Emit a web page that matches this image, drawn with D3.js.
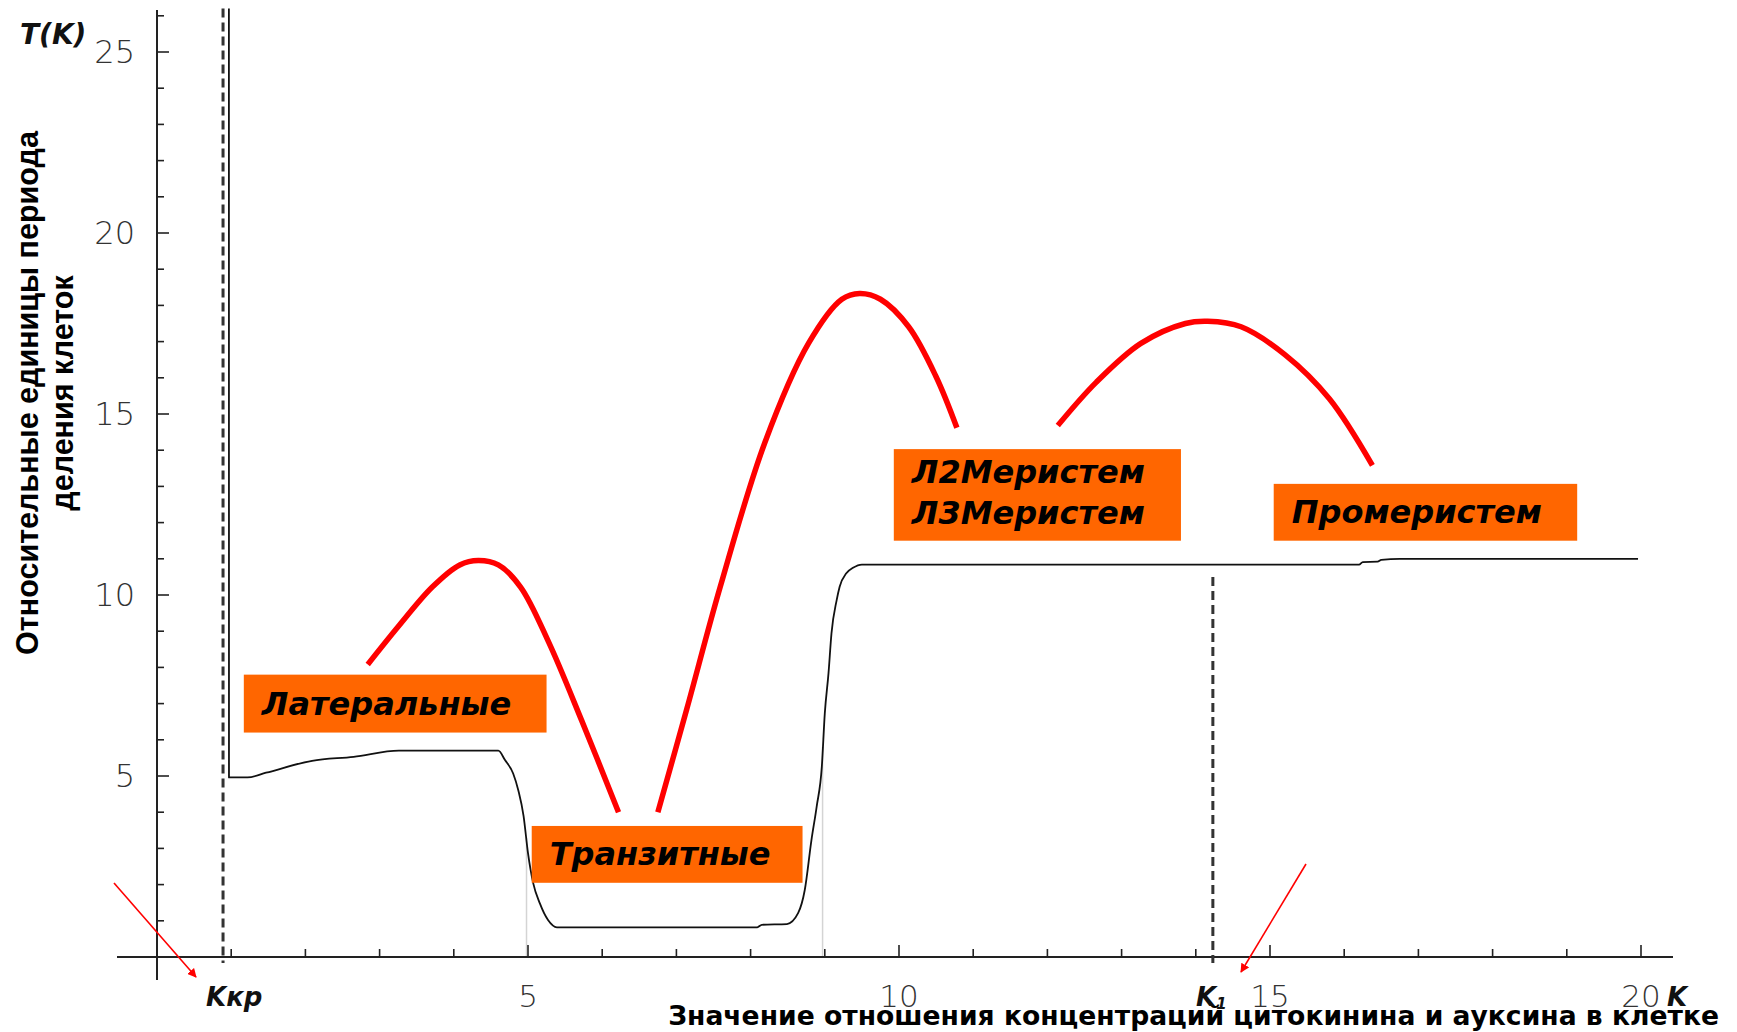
<!DOCTYPE html>
<html>
<head>
<meta charset="utf-8">
<script src="https://cdn.jsdelivr.net/npm/d3@7"></script>
<style>
  html, body { margin: 0; padding: 0; background: #fff; }
  svg { display: block; }
</style>
</head>
<body>
<svg id="chart" width="1737" height="1032"></svg>
<script>
// ---------- DATA ----------
// Main curve T(K)
const curveK = [0.969, 0.97, 1.22, 1.47, 2.09, 2.65, 3.26, 4.60, 4.69, 4.80, 4.87, 4.94, 5.00, 5.07, 5.16, 5.27, 5.39,
                8.09, 8.15, 8.49, 8.64, 8.73, 8.82, 8.89, 8.96, 9.00, 9.05, 9.09, 9.16, 9.20, 9.29, 9.38, 9.50,
                16.2, 16.25, 16.45, 16.5, 16.75, 19.96];
const curveT = [26.2, 4.96, 4.96, 5.09, 5.42, 5.53, 5.70, 5.70, 5.44, 5.07, 4.60, 3.90, 2.87, 2.04, 1.48, 1.02, 0.82,
                0.82, 0.89, 0.91, 1.21, 1.85, 3.23, 4.15, 5.26, 6.73, 7.84, 8.94, 9.86, 10.23, 10.6, 10.75, 10.84,
                10.84, 10.91, 10.92, 10.97, 11.0, 11.0];
// faint vertical jump lines  [K, Ttop]
const jumpK = [4.98, 8.97];
const jumpT = [3.3, 5.8];
// critical values
const critK = [0.89, 14.23];
const critTop = [26.2, 10.5];
const critLabels = ["Kкр", "K"];
// red annotation arcs
const arc1K = [2.84, 3.26, 3.71, 4.08, 4.33, 4.60, 4.90, 5.28, 5.72, 6.22];
const arc1T = [8.08, 9.15, 10.22, 10.83, 10.95, 10.83, 10.22, 8.69, 6.55, 4.0];
const arc2K = [6.75, 7.14, 7.59, 8.19, 8.78, 9.23, 9.47, 9.75, 10.13, 10.5, 10.78];
const arc2T = [4.0, 6.85, 10.22, 14.2, 16.95, 18.17, 18.33, 18.17, 17.41, 16.03, 14.62];
const arc3K = [12.14, 12.66, 13.26, 13.86, 14.16, 14.61, 15.2, 15.8, 16.38];
const arc3T = [14.68, 15.88, 16.95, 17.50, 17.56, 17.41, 16.64, 15.42, 13.58];
// labelled boxes
const boxNames = [["Латеральные"], ["Транзитные"], ["Л2Меристем", "Л3Меристем"], ["Промеристем"]];
const boxK0 = [1.17, 5.05, 9.93, 15.05];
const boxK1 = [5.25, 8.70, 13.80, 19.14];
const boxT0 = [7.8, 3.62, 14.03, 13.07];
const boxT1 = [6.2, 2.05, 11.5, 11.5];
// axis ticks
const xTicksMajor = [5, 10, 15, 20];
const yTicksMajor = [5, 10, 15, 20, 25];
const xTicksMinor = d3.range(1, 21);
const yTicksMinor = d3.range(1, 27);
// texts
const yTitle = ["Относительные единицы периода", "деления клеток"];
const xTitle = "Значение отношения концентраций цитокинина и ауксина в клетке";

// ---------- SCALES ----------
const x = d3.scaleLinear().domain([0, 20]).range([157, 1641]);
const y = d3.scaleLinear().domain([0, 25]).range([957, 52]);

const svg = d3.select("#chart");

// faint vertical lines
svg.append("g").selectAll("line").data(jumpK).join("line")
  .attr("x1", d => x(d)).attr("x2", d => x(d))
  .attr("y1", (d, i) => y(jumpT[i])).attr("y2", y(0))
  .attr("stroke", "#d4d4d4").attr("stroke-width", 1.5);

// Axes
const axisCol = "#222";
svg.append("line").attr("x1", 117).attr("x2", 1673).attr("y1", y(0)).attr("y2", y(0))
  .attr("stroke", axisCol).attr("stroke-width", 2);
svg.append("line").attr("x1", x(0)).attr("x2", x(0)).attr("y1", 10).attr("y2", 980)
  .attr("stroke", axisCol).attr("stroke-width", 2);

svg.append("g").selectAll("line").data(xTicksMinor).join("line")
  .attr("x1", d => x(d)).attr("x2", d => x(d))
  .attr("y1", y(0)).attr("y2", d => y(0) - (xTicksMajor.includes(d) ? 12 : 8))
  .attr("stroke", axisCol).attr("stroke-width", 1.6);
svg.append("g").selectAll("line").data(yTicksMinor).join("line")
  .attr("y1", d => y(d)).attr("y2", d => y(d))
  .attr("x1", x(0)).attr("x2", d => x(0) + (yTicksMajor.includes(d) ? 12 : 7))
  .attr("stroke", axisCol).attr("stroke-width", 1.6);

const tickFont = "'DejaVu Sans ExtraLight', 'DejaVu Sans', sans-serif";
svg.append("g").selectAll("text").data(xTicksMajor).join("text")
  .attr("x", d => x(d)).attr("y", y(0) + 50)
  .attr("text-anchor", "middle")
  .attr("font-family", tickFont).attr("font-weight", 200).attr("font-size", 31)
  .attr("fill", "#333").text(d => d);
svg.append("g").selectAll("text").data(yTicksMajor).join("text")
  .attr("x", x(0) - 22).attr("y", d => y(d) + 11)
  .attr("text-anchor", "end")
  .attr("font-family", tickFont).attr("font-weight", 200).attr("font-size", 32)
  .attr("fill", "#333").text(d => d);

// critical dashed lines
svg.append("g").selectAll("line").data(critK).join("line")
  .attr("x1", d => x(d)).attr("x2", d => x(d))
  .attr("y1", (d, i) => y(critTop[i])).attr("y2", y(0) + 6)
  .attr("stroke", "#333").attr("stroke-width", 3).attr("stroke-dasharray", "9,5");

// main curve
const line = d3.line().x(d => x(d[0])).y(d => y(d[1])).curve(d3.curveMonotoneX);
svg.append("path").datum(curveK.map((k, i) => [k, curveT[i]]))
  .attr("d", line).attr("fill", "none").attr("stroke", "#111").attr("stroke-width", 1.8)
  .attr("stroke-linejoin", "round");

// red arcs
const arcLine = d3.line().x(d => x(d[0])).y(d => y(d[1])).curve(d3.curveCatmullRom.alpha(0.5));
[[arc1K, arc1T], [arc2K, arc2T], [arc3K, arc3T]].forEach(([ks, ts]) => {
  svg.append("path").datum(ks.map((k, i) => [k, ts[i]]))
    .attr("d", arcLine).attr("fill", "none").attr("stroke", "#ff0000").attr("stroke-width", 5.5);
});

// boxes
const labelFont = "'DejaVu Sans', Verdana, sans-serif";
boxNames.forEach((lines, i) => {
  const g = svg.append("g");
  g.append("rect")
    .attr("x", x(boxK0[i])).attr("y", y(boxT0[i]))
    .attr("width", x(boxK1[i]) - x(boxK0[i])).attr("height", y(boxT1[i]) - y(boxT0[i]))
    .attr("fill", "#ff6600");
  lines.forEach((t, j) => {
    const n = lines.length;
    const top = y(boxT0[i]), bot = y(boxT1[i]);
    const baseY = n === 1 ? (top + bot) / 2 + 11 : top + 34 + j * 41;
    g.append("text")
      .attr("x", x(boxK0[i]) + 18).attr("y", baseY)
      .attr("font-family", labelFont).attr("font-weight", "bold").attr("font-style", "italic")
      .attr("font-size", 32).attr("fill", "#000").text(t);
  });
});

// Y title
const yt = svg.append("text")
  .attr("transform", "translate(38,393) rotate(-90)")
  .attr("text-anchor", "middle")
  .attr("font-family", "'Liberation Sans', Arial, sans-serif").attr("font-weight", "bold")
  .attr("font-size", 30.5).attr("fill", "#000");
yt.append("tspan").attr("x", 0).attr("dy", 0).text(yTitle[0]);
yt.append("tspan").attr("x", 0).attr("dy", 35).text(yTitle[1]);

// X title
svg.append("text").attr("x", 1719).attr("y", 1025).attr("text-anchor", "end")
  .attr("font-family", "'DejaVu Sans', sans-serif").attr("font-weight", "bold")
  .attr("font-size", 26.6).attr("fill", "#000").text(xTitle);

// T(K) and K labels
const italicBold = "'DejaVu Sans', sans-serif";
svg.append("text").attr("x", 20).attr("y", 44)
  .attr("font-family", italicBold).attr("font-weight", "bold").attr("font-style", "italic")
  .attr("font-size", 28).attr("fill", "#111").text("T(K)");
svg.append("text").attr("x", 206).attr("y", 1006)
  .attr("font-family", italicBold).attr("font-weight", "bold").attr("font-style", "italic")
  .attr("font-size", 26).attr("fill", "#111").text(critLabels[0]);
const k1 = svg.append("text").attr("x", 1196).attr("y", 1006)
  .attr("font-family", italicBold).attr("font-weight", "bold").attr("font-style", "italic")
  .attr("font-size", 26).attr("fill", "#111").text(critLabels[1]);
k1.append("tspan").attr("font-size", 15).attr("dy", 3).text("1");
svg.append("text").attr("x", 1667).attr("y", 1006)
  .attr("font-family", italicBold).attr("font-weight", "bold").attr("font-style", "italic")
  .attr("font-size", 26).attr("fill", "#111").text("K");

// red arrows
const defs = svg.append("defs");
defs.append("marker").attr("id", "arr").attr("viewBox", "0 0 10 10")
  .attr("refX", 9).attr("refY", 5).attr("markerWidth", 9).attr("markerHeight", 9)
  .attr("markerUnits", "userSpaceOnUse").attr("orient", "auto")
  .append("path").attr("d", "M0,0 L10,5 L0,10 Z").attr("fill", "#ff0000");
const arrows = [[114, 883, 196, 977], [1306, 864, 1241, 972]];
svg.append("g").selectAll("line").data(arrows).join("line")
  .attr("x1", d => d[0]).attr("y1", d => d[1]).attr("x2", d => d[2]).attr("y2", d => d[3])
  .attr("stroke", "#ff0000").attr("stroke-width", 1.6).attr("marker-end", "url(#arr)");
</script>
</body>
</html>
